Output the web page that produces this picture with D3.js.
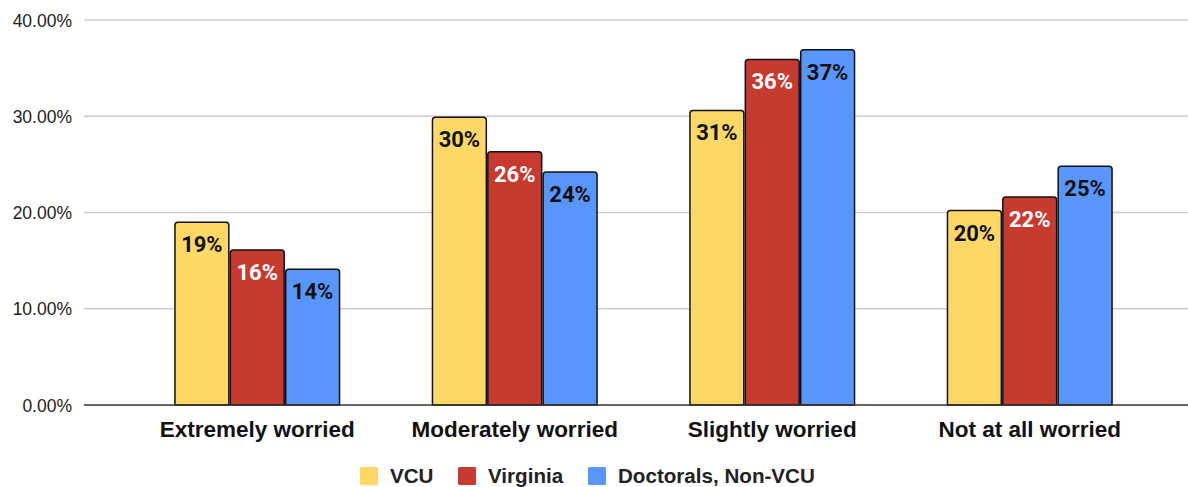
<!DOCTYPE html>
<html>
<head>
<meta charset="utf-8">
<script src="https://cdn.jsdelivr.net/npm/d3@7"></script>
<style>
  html, body { margin: 0; padding: 0; background: #fff; }
  svg { display: block; }
</style>
</head>
<body>
<svg id="chart" width="1188" height="487"></svg>
<script>
// Survey: level of worry, share of respondents per group
const categories = ["Extremely worried", "Moderately worried", "Slightly worried", "Not at all worried"];
const seriesNames = ["VCU", "Virginia", "Doctorals, Non-VCU"];
const vcu       = [0.190, 0.299, 0.306, 0.202];
const virginia  = [0.161, 0.263, 0.359, 0.216];
const doctorals = [0.141, 0.242, 0.369, 0.248];
const yTicks = [0, 0.1, 0.2, 0.3, 0.4];

const colors = ["#FDD866", "#C73A2F", "#5896FB"];
const labelColors = ["#111", "#fff", "#111"];
const seriesValues = [vcu, virginia, doctorals];

const svg = d3.select("#chart");
const W = 1188;

const y = d3.scaleLinear().domain([0, 0.4]).range([405, 20]);
const x0 = d3.scaleBand().domain(categories).range([128.5, 1158.5])
  .paddingInner(0.355).paddingOuter(0.1775);
const x1 = d3.scaleBand().domain(seriesNames).range([0, x0.bandwidth()]).padding(0);

// gridlines + y tick labels
const yAxis = d3.axisLeft(y).tickValues(yTicks).tickSize(0).tickPadding(0)
  .tickFormat(d3.format(".2%"));
const gAxis = svg.append("g").attr("transform", "translate(72,0)").call(yAxis);
gAxis.select(".domain").remove();
gAxis.selectAll("text")
  .attr("font-family", "Arial, 'Liberation Sans', sans-serif")
  .attr("font-size", 17.5)
  .attr("fill", "#222")
  .attr("dy", "0.35em");

svg.append("g").selectAll("line")
  .data(yTicks.filter(d => d > 0))
  .join("line")
  .attr("x1", 84).attr("x2", W)
  .attr("y1", d => y(d)).attr("y2", d => y(d))
  .attr("stroke", "#cccccc").attr("stroke-width", 1.3);

// bars with slightly rounded top corners
function barPath(x, top, w, bottom, r) {
  return `M${x},${bottom}V${top + r}Q${x},${top} ${x + r},${top}H${x + w - r}Q${x + w},${top} ${x + w},${top + r}V${bottom}Z`;
}

const rows = [];
categories.forEach((c, i) => {
  seriesNames.forEach((s, j) => rows.push({ c, s, j, v: seriesValues[j][i] }));
});

const gBars = svg.append("g");
gBars.selectAll("path")
  .data(rows)
  .join("path")
  .attr("d", d => {
    const bx = x0(d.c) + x1(d.s) + 0.75;
    return barPath(bx, y(d.v), x1.bandwidth() - 1.5, y(0), 3);
  })
  .attr("fill", d => colors[d.j])
  .attr("stroke", "#111")
  .attr("stroke-width", 1.5);

// value labels inside the bar tops
gBars.selectAll("text")
  .data(rows)
  .join("text")
  .attr("x", d => x0(d.c) + x1(d.s) + x1.bandwidth() / 2)
  .attr("y", d => y(d.v) + 30)
  .attr("text-anchor", "middle")
  .attr("font-family", "Roboto, Arial, sans-serif")
  .attr("font-weight", "bold")
  .attr("font-size", 22)
  .attr("fill", d => labelColors[d.j])
  .text(d => d3.format(".0%")(d.v));

// baseline
svg.append("line")
  .attr("x1", 84).attr("x2", W)
  .attr("y1", y(0)).attr("y2", y(0))
  .attr("stroke", "#333").attr("stroke-width", 1.5);

// category labels
const xAxis = d3.axisBottom(x0).tickSize(0).tickPadding(0);
const gx = svg.append("g").attr("transform", "translate(0,437)").call(xAxis);
gx.select(".domain").remove();
gx.selectAll("text")
  .attr("dy", 0)
  .attr("font-family", "Arial, 'Liberation Sans', sans-serif")
  .attr("font-weight", "bold")
  .attr("font-size", 22.5)
  .attr("fill", "#111");

// legend
const legendX = [360, 458, 588];
const legend = svg.append("g").selectAll("g")
  .data(seriesNames)
  .join("g")
  .attr("transform", (d, i) => `translate(${legendX[i]},467)`);
legend.append("rect")
  .attr("width", 18).attr("height", 18).attr("rx", 1.5)
  .attr("fill", (d, i) => colors[i]);
legend.append("text")
  .attr("x", 30).attr("y", 16)
  .attr("font-family", "Arial, 'Liberation Sans', sans-serif")
  .attr("font-weight", "bold")
  .attr("font-size", 20.6)
  .attr("fill", "#222")
  .text(d => d);
</script>
</body>
</html>
